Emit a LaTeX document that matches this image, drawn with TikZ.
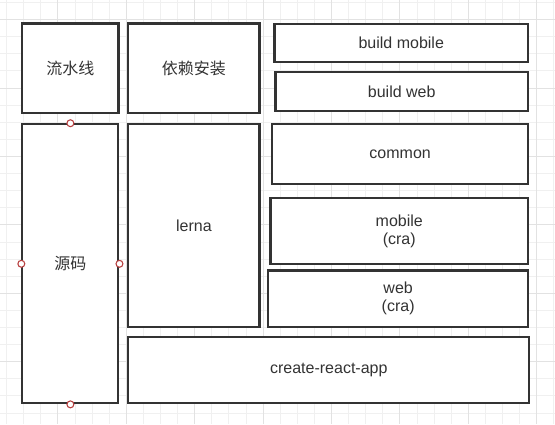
\documentclass[tikz,border=0pt]{standalone}
\usepackage{fontspec}
\setmainfont{Liberation Sans}
\newfontfamily\cjk{Noto Sans CJK SC}
\usetikzlibrary{fit}

\definecolor{boxline}{RGB}{51,51,51}
\definecolor{gridminor}{RGB}{240,240,240}
\definecolor{gridmajor}{RGB}{226,226,226}
\definecolor{handlered}{RGB}{184,64,64}

\tikzset{every picture/.style={line width=0.75pt}}
\tikzset{
  box/.style={draw=boxline, line width=1.6pt, fill=white, inner sep=0pt},
  boxtext/.style={align=center, text=boxline, inner sep=0pt, font=\fontsize{12}{13.5}\selectfont},
  handle/.style={circle, draw=handlered, line width=0.8pt, fill=white, inner sep=0pt, minimum size=5.2pt},
}

\begin{document}
\begin{tikzpicture}[x=0.75pt,y=0.75pt,yscale=-1,xscale=1]
\useasboundingbox (0,0) rectangle (555,424);
%grid
\foreach \i in {0,...,32} \draw[gridminor] ({6.6+17.1*\i},0) -- ({6.6+17.1*\i},424);
\foreach \i in {0,...,24} \draw[gridminor] (0,{2.6+17.1*\i}) -- (555,{2.6+17.1*\i});
\foreach \i in {0,...,7} \draw[gridmajor] ({57.9+68.4*\i},0) -- ({57.9+68.4*\i},424);
\foreach \i in {0,...,5} \draw[gridmajor] (0,{19.7+68.4*\i}) -- (555,{19.7+68.4*\i});

%top row
\node[box, fit={(22.4,23.5) (118.5,113)}, label={[boxtext]center:\cjk 流水线}] (pipeline) {};
\node[box, fit={(128.3,23.5) (259.5,113)}, label={[boxtext]center:\cjk 依赖安装}] (install) {};
\node[box, fit={(274.5,24) (528,62)}, label={[boxtext]center:build mobile}] (buildmobile) {};
\node[box, fit={(275.5,72.3) (528,111)}, label={[boxtext]center:build web}] (buildweb) {};

%source column
\node[box, fit={(22.4,124.3) (118.4,403.3)}, label={[boxtext]center:\cjk 源码}] (source) {};
\node[box, fit={(128.3,124.3) (259.5,327)}, label={[boxtext]center:lerna}] (lerna) {};
\node[box, fit={(272.3,124.3) (528,184)}, label={[boxtext]center:common}] (common) {};
\node[box, fit={(270.5,198.3) (528,264)}, label={[boxtext]center:mobile\\(cra)}] (mobile) {};
\node[box, fit={(268.3,270.5) (528,327)}, label={[boxtext]center:web\\(cra)}] (web) {};
\node[box, fit={(128.3,336.7) (529.3,403.3)}, label={[boxtext]center:create-react-app}] (cra) {};

%handles
\node[handle] (hnorth) at (source.north) {};
\node[handle] (hwest) at (source.west) {};
\node[handle] (heast) at (source.east) {};
\node[handle] (hsouth) at (source.south) {};
\end{tikzpicture}
\end{document}
